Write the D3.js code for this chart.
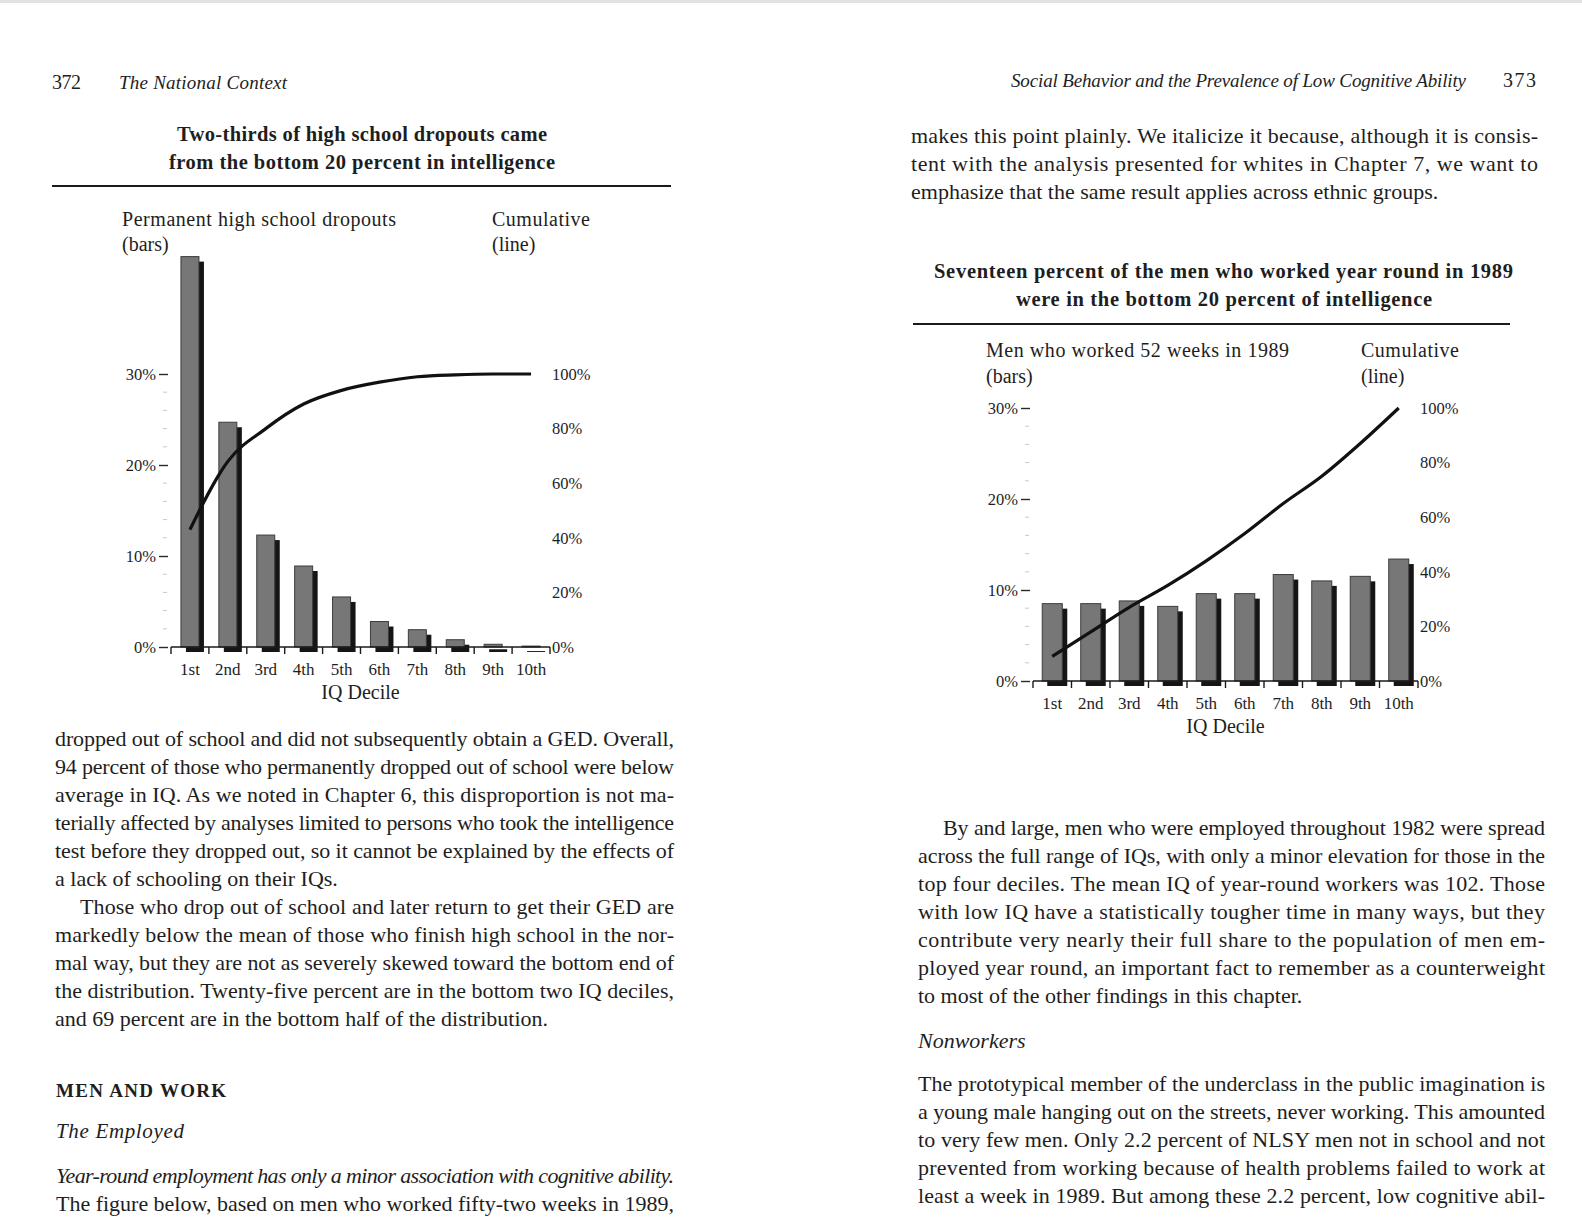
<!DOCTYPE html>
<html>
<head>
<meta charset="utf-8">
<script src="https://cdn.jsdelivr.net/npm/d3@7"></script>
<style>
  html, body { margin: 0; padding: 0; background: #fff; }
  svg { display: block; }
  text { font-family: "Liberation Serif", "Times New Roman", serif; fill: #1e1e1e; }
</style>
</head>
<body>
<svg id="page" width="1582" height="1220"></svg>
<script>
// ---------------- data ----------------
const deciles = ["1st", "2nd", "3rd", "4th", "5th", "6th", "7th", "8th", "9th", "10th"];

// Chart 1: permanent high school dropouts by IQ decile (%)
const dropoutBars = [42.9, 24.7, 12.3, 8.9, 5.5, 2.8, 1.9, 0.8, 0.3, 0.1];
const dropoutCumulative = [43, 68, 80, 89, 94, 97, 99, 99.7, 100, 100];

// Chart 2: men who worked 52 weeks in 1989 by IQ decile (%)
const workerBars = [8.5, 8.5, 8.8, 8.2, 9.6, 9.6, 11.7, 11.0, 11.5, 13.4];
const workerCumulative = [9, 18, 27, 35, 44, 54, 65, 75, 87, 100];

const barTicks = [0, 10, 20, 30];
const lineTicks = [0, 20, 40, 60, 80, 100];

// ---------------- page ----------------
const svg = d3.select("#page");
svg.append("rect").attr("width", 1582).attr("height", 1220).attr("fill", "#fff");
svg.append("rect").attr("width", 1582).attr("height", 3).attr("fill", "#e2e2e2");

const BODY = 22;
function put(o) {
  const t = svg.append("text")
    .attr("x", o.x).attr("y", o.y)
    .attr("font-size", o.size || BODY)
    .text(o.t);
  if (o.i) t.attr("font-style", "italic");
  if (o.b) t.attr("font-weight", "bold");
  if (o.w) t.attr("textLength", o.w).attr("lengthAdjust", "spacing");
  return t;
}

// left page text
const leftPage = [
  { t: "372", x: 52, y: 89, w: 29, size: 20 },
  { t: "The National Context", x: 119, y: 89, w: 168, size: 19, i: true },
  { t: "Two-thirds of high school dropouts came", x: 177, y: 141, w: 370, size: 20.5, b: true },
  { t: "from the bottom 20 percent in intelligence", x: 169, y: 169, w: 386, size: 20.5, b: true },
  { t: "Permanent high school dropouts", x: 122, y: 226, w: 274, size: 20 },
  { t: "(bars)", x: 122, y: 251, size: 20 },
  { t: "Cumulative", x: 492, y: 226, w: 98, size: 20 },
  { t: "(line)", x: 492, y: 251, size: 20 },
  { t: "dropped out of school and did not subsequently obtain a GED. Overall,", x: 55, y: 746, w: 619 },
  { t: "94 percent of those who permanently dropped out of school were below", x: 55, y: 774, w: 619 },
  { t: "average in IQ. As we noted in Chapter 6, this disproportion is not ma-", x: 55, y: 802, w: 619 },
  { t: "terially affected by analyses limited to persons who took the intelligence", x: 55, y: 830, w: 619 },
  { t: "test before they dropped out, so it cannot be explained by the effects of", x: 55, y: 858, w: 619 },
  { t: "a lack of schooling on their IQs.", x: 55, y: 886 },
  { t: "Those who drop out of school and later return to get their GED are", x: 80, y: 914, w: 594 },
  { t: "markedly below the mean of those who finish high school in the nor-", x: 55, y: 942, w: 619 },
  { t: "mal way, but they are not as severely skewed toward the bottom end of", x: 55, y: 970, w: 619 },
  { t: "the distribution. Twenty-five percent are in the bottom two IQ deciles,", x: 55, y: 998, w: 619 },
  { t: "and 69 percent are in the bottom half of the distribution.", x: 55, y: 1026 },
  { t: "MEN AND WORK", x: 56, y: 1097, w: 170, size: 19, b: true },
  { t: "The Employed", x: 56, y: 1138, w: 128, size: 21, i: true },
  { t: "Year-round employment has only a minor association with cognitive ability.", x: 56, y: 1183, w: 618, i: true },
  { t: "The figure below, based on men who worked fifty-two weeks in 1989,", x: 56, y: 1211, w: 618 }
];

// right page text
const rightPage = [
  { t: "Social Behavior and the Prevalence of Low Cognitive Ability", x: 1011, y: 87, w: 455, size: 19, i: true },
  { t: "373", x: 1503, y: 87, w: 33, size: 20 },
  { t: "makes this point plainly. We italicize it because, although it is consis-", x: 911, y: 143, w: 627 },
  { t: "tent with the analysis presented for whites in Chapter 7, we want to", x: 911, y: 171, w: 627 },
  { t: "emphasize that the same result applies across ethnic groups.", x: 911, y: 199 },
  { t: "Seventeen percent of the men who worked year round in 1989", x: 934, y: 278, w: 579, size: 20.5, b: true },
  { t: "were in the bottom 20 percent of intelligence", x: 1016, y: 306, w: 416, size: 20.5, b: true },
  { t: "Men who worked 52 weeks in 1989", x: 986, y: 357, w: 303, size: 20 },
  { t: "(bars)", x: 986, y: 383, size: 20 },
  { t: "Cumulative", x: 1361, y: 357, w: 98, size: 20 },
  { t: "(line)", x: 1361, y: 383, size: 20 },
  { t: "By and large, men who were employed throughout 1982 were spread", x: 943, y: 835, w: 602 },
  { t: "across the full range of IQs, with only a minor elevation for those in the", x: 918, y: 863, w: 627 },
  { t: "top four deciles. The mean IQ of year-round workers was 102. Those", x: 918, y: 891, w: 627 },
  { t: "with low IQ have a statistically tougher time in many ways, but they", x: 918, y: 919, w: 627 },
  { t: "contribute very nearly their full share to the population of men em-", x: 918, y: 947, w: 627 },
  { t: "ployed year round, an important fact to remember as a counterweight", x: 918, y: 975, w: 627 },
  { t: "to most of the other findings in this chapter.", x: 918, y: 1003 },
  { t: "Nonworkers", x: 918, y: 1048, i: true },
  { t: "The prototypical member of the underclass in the public imagination is", x: 918, y: 1091, w: 627 },
  { t: "a young male hanging out on the streets, never working. This amounted", x: 918, y: 1119, w: 627 },
  { t: "to very few men. Only 2.2 percent of NLSY men not in school and not", x: 918, y: 1147, w: 627 },
  { t: "prevented from working because of health problems failed to work at", x: 918, y: 1175, w: 627 },
  { t: "least a week in 1989. But among these 2.2 percent, low cognitive abil-", x: 918, y: 1203, w: 627 }
];

leftPage.forEach(put);
rightPage.forEach(put);

// title rules
svg.append("line").attr("x1", 52).attr("x2", 671).attr("y1", 186).attr("y2", 186)
  .attr("stroke", "#1a1a1a").attr("stroke-width", 2.2);
svg.append("line").attr("x1", 913).attr("x2", 1510).attr("y1", 324).attr("y2", 324)
  .attr("stroke", "#1a1a1a").attr("stroke-width", 2.2);

// ---------------- charts ----------------
function drawChart(o) {
  const x = d3.scaleBand().domain(deciles).range([o.x0, o.x1]).padding(0);
  const yL = d3.scaleLinear().domain([0, 30]).range([o.y0, o.yTop]);
  const yR = d3.scaleLinear().domain([0, 100]).range([o.y0, o.yTop]);
  const bw = x.bandwidth();
  const barW = bw * o.barFrac;
  const off = (bw - barW) / 2;
  const g = svg.append("g");

  // minor ticks on left axis (faint)
  g.selectAll("line.minor")
    .data(yL.ticks(15).filter(t => t % 10 !== 0))
    .join("line")
    .attr("x1", o.axX - 5).attr("x2", o.axX - 1)
    .attr("y1", d => yL(d)).attr("y2", d => yL(d))
    .attr("stroke", "#c8c8c8").attr("stroke-width", 1);

  // bar shadows
  g.selectAll("rect.shadow")
    .data(o.bars)
    .join("rect")
    .attr("x", (d, i) => x(deciles[i]) + off + 5)
    .attr("y", d => yL(d) + 5)
    .attr("width", barW)
    .attr("height", d => o.y0 - yL(d))
    .attr("fill", "#151515");

  // bars
  g.selectAll("rect.bar")
    .data(o.bars)
    .join("rect")
    .attr("x", (d, i) => x(deciles[i]) + off)
    .attr("y", d => yL(d))
    .attr("width", barW)
    .attr("height", d => o.y0 - yL(d))
    .attr("fill", "#777777")
    .attr("stroke", "#3c3c3c")
    .attr("stroke-width", 1);

  // x axis line + edge ticks
  g.append("line").attr("x1", o.x0).attr("x2", o.x1).attr("y1", o.y0).attr("y2", o.y0)
    .attr("stroke", "#1a1a1a").attr("stroke-width", 1.6);
  const edges = deciles.map(d => x(d)).concat([o.x1]);
  g.selectAll("line.edge")
    .data(edges)
    .join("line")
    .attr("x1", d => d).attr("x2", d => d)
    .attr("y1", o.y0).attr("y2", o.y0 + 7)
    .attr("stroke", "#1a1a1a").attr("stroke-width", 1.4);

  // x tick labels
  g.append("g")
    .attr("transform", `translate(0,${o.y0})`)
    .call(d3.axisBottom(x).tickSize(0).tickPadding(16))
    .call(s => s.select(".domain").remove())
    .attr("font-family", '"Liberation Serif", "Times New Roman", serif')
    .attr("font-size", 17)
    .attr("color", "#1e1e1e");

  // left axis
  g.append("g")
    .attr("transform", `translate(${o.axX},0)`)
    .call(d3.axisLeft(yL).tickValues(barTicks).tickSize(9).tickPadding(3).tickFormat(d => d + "%"))
    .call(s => s.select(".domain").remove())
    .call(s => s.selectAll(".tick line").attr("stroke-width", 1.4))
    .attr("font-family", '"Liberation Serif", "Times New Roman", serif')
    .attr("font-size", 16.5)
    .attr("color", "#2a2a2a");

  // right axis labels
  g.append("g")
    .attr("transform", `translate(${o.x1},0)`)
    .call(d3.axisRight(yR).tickValues(lineTicks).tickSize(0).tickPadding(2).tickFormat(d => d + "%"))
    .call(s => s.select(".domain").remove())
    .attr("font-family", '"Liberation Serif", "Times New Roman", serif')
    .attr("font-size", 16.5)
    .attr("color", "#2a2a2a");

  // cumulative line
  const line = d3.line()
    .x((d, i) => x(deciles[i]) + bw / 2)
    .y(d => yR(d))
    .curve(d3.curveMonotoneX);
  g.append("path")
    .datum(o.cum)
    .attr("d", line)
    .attr("fill", "none")
    .attr("stroke", "#111")
    .attr("stroke-width", 3.2)
    .attr("stroke-linejoin", "round");

  // x axis title
  g.append("text")
    .attr("x", (o.x0 + o.x1) / 2)
    .attr("y", o.y0 + 52)
    .attr("text-anchor", "middle")
    .attr("font-size", 20)
    .text("IQ Decile");
}

drawChart({ x0: 171, x1: 550, y0: 647, yTop: 374, axX: 168, barFrac: 0.475,
            bars: dropoutBars, cum: dropoutCumulative });
drawChart({ x0: 1033, x1: 1418, y0: 681, yTop: 408, axX: 1030, barFrac: 0.52,
            bars: workerBars, cum: workerCumulative });
</script>
</body>
</html>
